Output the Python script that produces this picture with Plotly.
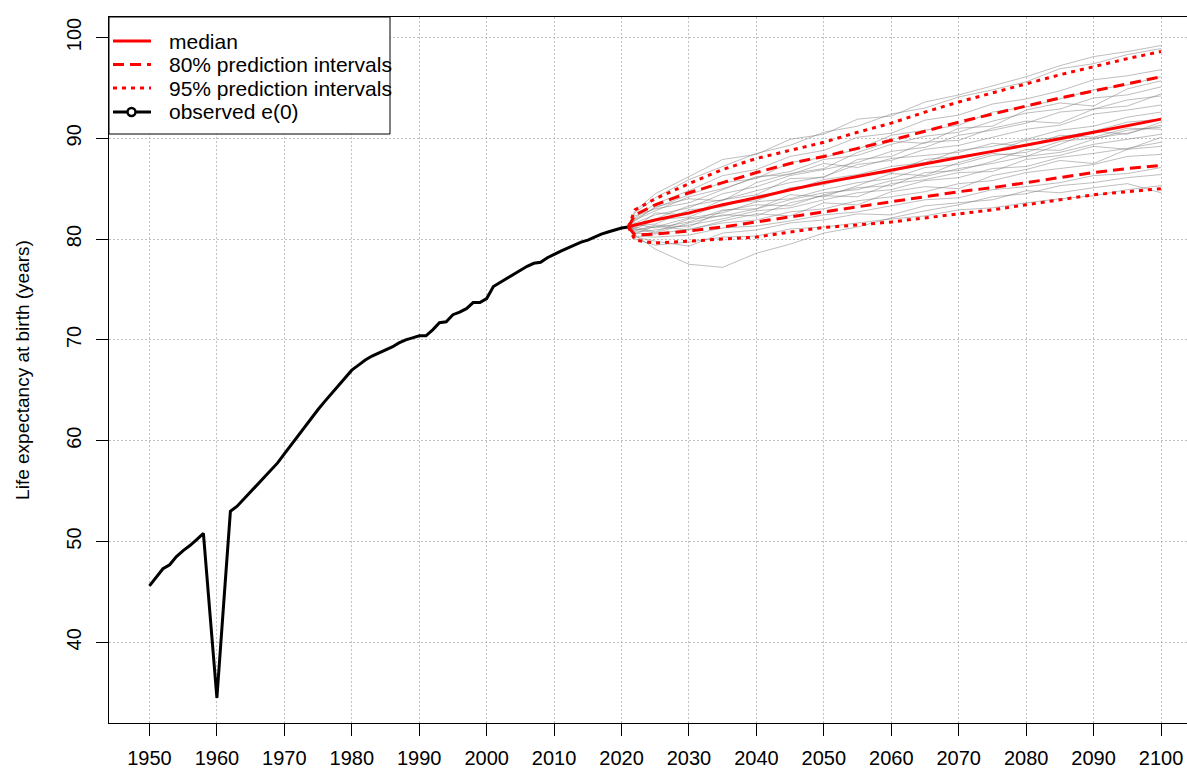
import plotly.graph_objects as go

# ---------------- data ----------------
obs_years = list(range(1950, 2022))
obs_e0 = [45.6, 46.5, 47.3, 47.7, 48.5, 49.1, 49.6, 50.2, 50.8, 42.6,
          34.5, 43.8, 53.0, 53.5, 54.2, 55.0, 55.7, 56.4, 57.0, 57.8,
          58.7, 59.6, 60.5, 61.3, 62.2, 63.1, 63.9, 64.7, 65.5, 66.3,
          67.0, 67.5, 68.0, 68.4, 68.7, 69.0, 69.3, 69.7, 70.0, 70.2,
          70.4, 70.4, 71.0, 71.7, 71.8, 72.5, 72.75, 73.1, 73.7, 73.7,
          74.1, 75.3, 75.7, 76.1, 76.5, 76.9, 77.3, 77.6, 77.7, 78.15,
          78.5, 78.8, 79.1, 79.4, 79.7, 79.9, 80.2, 80.5, 80.7, 80.9,
          81.1, 81.2]

proj_years = [2021, 2022, 2025, 2030, 2035, 2040, 2045, 2050, 2055,
              2060, 2065, 2070, 2075, 2080, 2085, 2090, 2095, 2100]
median = [81.2, 81.4, 81.9, 82.6, 83.4, 84.1, 84.9, 85.6, 86.2,
          86.85, 87.5, 88.1, 88.7, 89.3, 89.95, 90.6, 91.25, 91.9]
upper80 = [81.2, 82.4, 83.4, 84.6, 85.6, 86.6, 87.5, 88.2, 89.0,
           89.8, 90.7, 91.6, 92.4, 93.2, 94.0, 94.7, 95.4, 96.1]
lower80 = [81.2, 80.4, 80.5, 80.8, 81.2, 81.7, 82.2, 82.65, 83.2,
           83.7, 84.2, 84.7, 85.1, 85.6, 86.1, 86.6, 87.0, 87.3]
upper95 = [81.2, 82.9, 84.0, 85.5, 86.9, 88.0, 88.8, 89.6, 90.6,
           91.5, 92.6, 93.6, 94.5, 95.4, 96.3, 97.1, 97.9, 98.6]
lower95 = [81.2, 79.9, 79.6, 79.8, 80.0, 80.2, 80.7, 81.15, 81.4,
           81.7, 82.1, 82.5, 82.9, 83.4, 83.9, 84.4, 84.7, 85.0]

trajectories = [
    [81.2, 82.6, 84.1, 85.9, 87.2, 88.5, 89.3, 90.6, 91.2, 92.4, 93.0, 94.1, 94.8, 95.6, 96.9, 97.4, 98.3, 98.9],
    [81.2, 82.1, 83.5, 84.8, 86.3, 86.9, 88.2, 88.8, 90.1, 90.5, 91.8, 92.3, 93.4, 93.9, 94.7, 95.8, 96.2, 96.8],
    [81.2, 81.9, 82.8, 84.2, 85.0, 86.1, 86.7, 87.9, 88.3, 89.4, 90.2, 90.6, 91.7, 92.5, 92.9, 94.0, 94.3, 95.1],
    [81.2, 81.6, 82.4, 83.1, 84.5, 85.2, 86.3, 86.9, 87.6, 88.7, 89.1, 90.3, 90.8, 91.5, 92.6, 92.9, 93.8, 94.2],
    [81.2, 81.4, 82.0, 83.3, 83.9, 84.8, 85.6, 86.2, 87.4, 87.8, 88.9, 89.3, 90.1, 90.9, 91.3, 92.4, 92.8, 93.3],
    [81.2, 81.3, 81.5, 82.9, 83.2, 84.3, 84.8, 85.9, 86.4, 87.2, 87.6, 88.8, 89.2, 89.9, 90.8, 91.2, 92.1, 92.6],
    [81.2, 81.0, 81.9, 82.2, 83.5, 83.8, 85.1, 85.4, 86.3, 86.6, 87.9, 88.2, 88.7, 89.8, 90.1, 90.7, 91.6, 91.9],
    [81.2, 80.9, 81.2, 82.1, 82.6, 83.7, 84.0, 84.9, 85.6, 86.0, 87.1, 87.4, 88.3, 88.6, 89.7, 90.0, 90.5, 91.3],
    [81.2, 81.5, 81.1, 81.7, 82.9, 83.0, 83.9, 84.6, 84.9, 85.8, 86.2, 87.0, 87.5, 88.2, 88.6, 89.4, 89.9, 90.4],
    [81.2, 80.7, 80.9, 81.4, 82.0, 82.8, 83.1, 83.9, 84.6, 84.9, 85.8, 86.1, 87.0, 87.2, 88.1, 88.5, 89.0, 89.6],
    [81.2, 80.6, 80.5, 81.0, 81.6, 81.9, 82.7, 83.0, 83.8, 84.2, 84.7, 85.5, 85.8, 86.6, 87.0, 87.4, 88.2, 88.4],
    [81.2, 80.3, 80.2, 80.4, 81.1, 81.3, 81.8, 82.4, 82.7, 83.3, 83.9, 84.1, 84.9, 85.2, 85.6, 86.3, 86.5, 87.1],
    [81.2, 80.0, 79.4, 79.7, 80.2, 80.3, 81.0, 81.2, 81.6, 82.0, 82.3, 82.9, 83.1, 83.6, 84.0, 84.3, 84.9, 85.3],
    [81.2, 80.4, 79.0, 77.5, 77.2, 78.6, 79.5, 80.6, 81.2, 82.1, 82.8, 83.4, 84.2, 84.5, 85.3, 85.6, 86.1, 86.4],
    [81.2, 82.3, 83.0, 83.6, 84.9, 86.2, 86.4, 87.5, 87.1, 88.0, 88.3, 88.6, 89.5, 89.2, 90.3, 90.1, 91.0, 90.9],
    [81.2, 81.1, 82.6, 82.4, 83.9, 84.4, 86.0, 86.1, 87.9, 88.2, 89.6, 89.8, 91.0, 91.7, 91.5, 92.9, 93.2, 94.4],
    [81.2, 81.8, 83.2, 84.0, 83.8, 85.6, 86.5, 87.0, 88.6, 89.7, 89.5, 91.0, 91.2, 92.8, 93.5, 93.2, 94.9, 95.7],
    [81.2, 80.8, 81.4, 81.2, 82.8, 83.4, 83.3, 84.4, 85.1, 85.3, 86.6, 86.8, 87.7, 88.9, 88.8, 89.9, 90.8, 91.1],
    [81.2, 81.2, 80.7, 82.0, 82.3, 83.0, 84.4, 84.2, 85.3, 86.5, 86.3, 87.6, 88.5, 88.2, 89.4, 90.7, 90.4, 91.6],
    [81.2, 80.5, 81.3, 80.9, 81.8, 82.5, 82.3, 83.6, 83.4, 84.7, 85.2, 85.0, 86.3, 86.9, 87.8, 87.5, 88.9, 89.2],
    [81.2, 82.8, 84.5, 86.2, 87.9, 88.4, 89.9, 90.4, 91.9, 92.2, 93.6, 94.3, 95.2, 96.1, 97.2, 98.1, 98.6, 99.2],
    [81.2, 80.2, 79.8, 79.3, 80.6, 80.9, 81.6, 81.9, 82.5, 82.4, 83.3, 83.6, 83.9, 84.8, 84.6, 85.1, 85.5, 84.6],
    [81.2, 82.0, 83.1, 84.4, 85.6, 86.0, 87.6, 88.1, 88.9, 90.3, 90.8, 91.3, 92.6, 93.1, 93.9, 94.8, 95.3, 96.1],
    [81.2, 81.0, 80.6, 81.6, 82.4, 82.3, 83.6, 84.3, 84.2, 85.5, 85.9, 86.6, 86.7, 87.9, 88.3, 89.2, 88.9, 90.1],
]

x_ticks = list(range(1950, 2101, 10))
y_ticks = [40, 50, 60, 70, 80, 90, 100]
y_title = "Life expectancy at birth (years)"
legend_names = ["median", "80% prediction intervals", "95% prediction intervals", "observed e(0)"]

# ---------------- styling / layout constants ----------------
FONT = "Liberation Sans, Arial, Helvetica, sans-serif"
RED = "#ff0000"
DASH80 = "11px,6px"
DOT95 = "4px,5px"
FIG_W, FIG_H = 1187, 770
M_L, M_R, M_T, M_B = 109, 0, 17, 47
PLOT_W = FIG_W - M_L - M_R
PLOT_H = FIG_H - M_T - M_B


def px(x_page):
    """page pixel -> paper x"""
    return (x_page - M_L) / PLOT_W


def py(y_page):
    """page pixel -> paper y"""
    return (FIG_H - M_B - y_page) / PLOT_H


fig = go.Figure()

for tr in trajectories:
    fig.add_trace(go.Scatter(x=proj_years, y=tr, mode="lines",
                             line=dict(color="rgba(120,120,120,0.48)", width=1),
                             showlegend=False, hoverinfo="skip"))

fig.add_trace(go.Scatter(x=obs_years, y=obs_e0, mode="lines", name=legend_names[3],
                         line=dict(color="black", width=3), showlegend=False))

fig.add_trace(go.Scatter(x=proj_years, y=median, mode="lines", name=legend_names[0],
                         line=dict(color=RED, width=3), showlegend=False))
for series in (upper80, lower80):
    fig.add_trace(go.Scatter(x=proj_years, y=series, mode="lines", name=legend_names[1],
                             line=dict(color=RED, width=3, dash=DASH80), showlegend=False))
for series in (upper95, lower95):
    fig.add_trace(go.Scatter(x=proj_years, y=series, mode="lines", name=legend_names[2],
                             line=dict(color=RED, width=3, dash=DOT95), showlegend=False))

# ---------------- legend (drawn like R's legend box) ----------------
shapes = []
annotations = []
shapes.append(dict(type="rect", xref="paper", yref="paper",
                   x0=px(109), x1=px(390), y0=py(134), y1=py(17),
                   line=dict(color="black", width=1), fillcolor="white", layer="above"))
row_y = [41, 64.5, 88, 112]
styles = [dict(color=RED, width=3), dict(color=RED, width=3, dash=DASH80),
          dict(color=RED, width=3, dash=DOT95), dict(color="black", width=3)]
for name, yy, st in zip(legend_names, row_y, styles):
    shapes.append(dict(type="line", xref="paper", yref="paper",
                       x0=px(113), x1=px(151), y0=py(yy), y1=py(yy),
                       line=st, layer="above"))
    annotations.append(dict(text=name, xref="paper", yref="paper",
                            x=px(167), y=py(yy), xanchor="left", yanchor="middle",
                            showarrow=False,
                            font=dict(family=FONT, size=21, color="black")))
shapes.append(dict(type="circle", xref="paper", yref="paper",
                   x0=px(127.5), x1=px(135.5), y0=py(row_y[3] + 4), y1=py(row_y[3] - 4),
                   line=dict(color="black", width=2.5), fillcolor="white", layer="above"))

fig.update_layout(
    width=FIG_W, height=FIG_H,
    margin=dict(l=M_L, r=M_R, t=M_T, b=M_B, autoexpand=False),
    paper_bgcolor="white", plot_bgcolor="white",
    font=dict(family=FONT, size=20, color="black"),
    showlegend=False,
    shapes=shapes, annotations=annotations,
)
fig.update_xaxes(
    range=[1944, 2103.85], tickmode="array", tickvals=x_ticks,
    ticks="outside", ticklen=12, tickwidth=1, tickcolor="black",
    ticklabelstandoff=5,
    showline=True, linecolor="black", linewidth=1, mirror=True,
    showgrid=True, gridcolor="#c0c0c0", gridwidth=1, griddash="2px,2px",
    zeroline=False, tickfont=dict(family=FONT, size=20, color="black"),
)
fig.update_yaxes(
    range=[32.0, 102.03], tickmode="array", tickvals=y_ticks,
    ticks="outside", ticklen=12, tickwidth=1, tickcolor="black",
    tickangle=-90, ticklabelstandoff=7,
    showline=True, linecolor="black", linewidth=1, mirror=False,
    showgrid=True, gridcolor="#c0c0c0", gridwidth=1, griddash="2px,2px",
    zeroline=False, tickfont=dict(family=FONT, size=20, color="black"),
    title=dict(text=y_title, font=dict(family=FONT, size=19, color="black"), standoff=28),
)

fig.write_html("out.html",
               config={"displayModeBar": False},
               post_script="document.body.style.margin='0px';"
                           "document.body.style.overflow='hidden';")
